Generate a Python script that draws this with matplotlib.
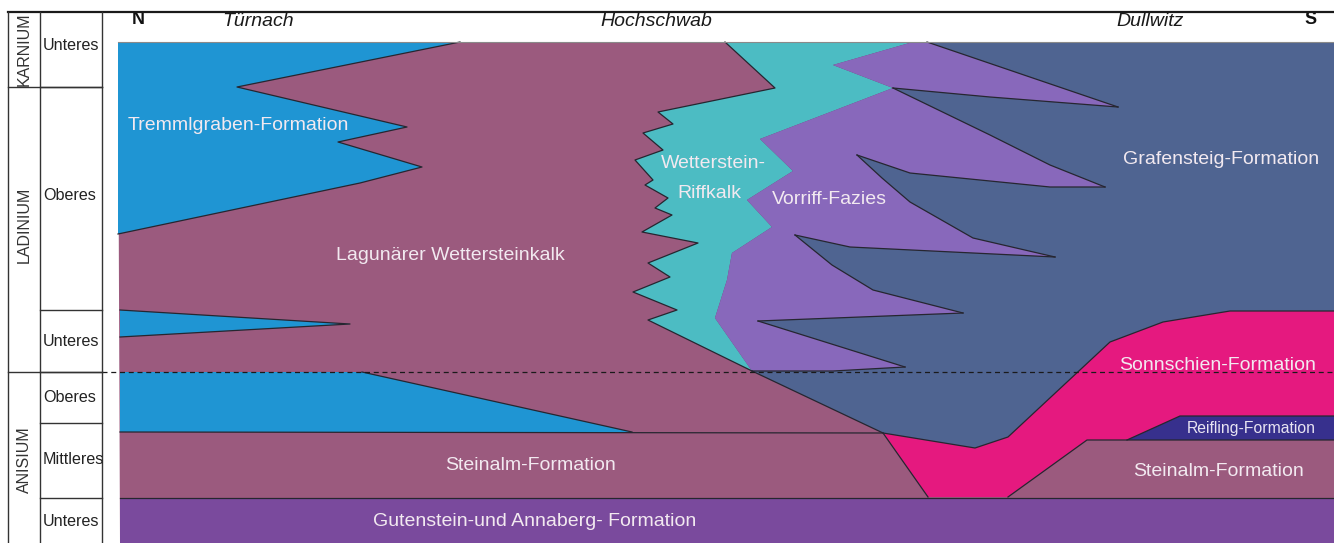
import matplotlib.pyplot as plt
from matplotlib.patches import Polygon

plt.rcParams['font.family'] = ['Liberation Sans', 'DejaVu Sans']

# Facies bodies of the N-S section, outlines in picture units (x = position, y = depth)
BASE = [(118, 42), (1334, 42), (1334, 543), (120, 543)]
TREMMLGRABEN = [(118, 42), (460, 42), (237, 87), (407, 127), (338, 142),
                (422, 167), (360, 183), (118, 234)]
TREMMLGRABEN_WEDGE = [(120, 310), (350, 324), (120, 337)]
TREMMLGRABEN_ANIS = [(120, 372), (362, 372), (632, 432), (120, 432)]
GUTENSTEIN = [(120, 498), (1334, 498), (1334, 543), (120, 543)]

REEF_LEFT = [(725, 42), (775, 88), (658, 112), (673, 124), (643, 133), (663, 150),
             (635, 160), (653, 180), (645, 185), (668, 198), (655, 208), (672, 215),
             (642, 232), (698, 243), (648, 263), (670, 277), (633, 292), (677, 310),
             (648, 320), (752, 371)]
REEF_RIGHT = [(913, 42), (833, 65), (893, 88), (760, 139), (793, 171), (747, 200),
              (772, 227), (732, 253), (727, 280), (715, 318), (752, 371)]

GRAFENSTEIG_BASE = [(752, 371), (883, 433), (975, 448), (1008, 437), (1110, 342),
                    (1163, 322), (1230, 311), (1334, 311)]

VORRIFF_TOP = [(833, 65), (913, 42), (927, 42), (1118, 107), (990, 97), (893, 88)]
VORRIFF_MAIN = [(893, 88), (990, 135), (1050, 165), (1105, 187), (1050, 187),
                (910, 173), (857, 155), (882, 178), (910, 202), (973, 238),
                (1055, 257), (850, 247), (795, 235), (832, 265), (873, 290),
                (963, 313), (758, 321), (905, 367), (833, 371), (752, 371),
                (715, 318), (727, 280), (732, 253), (772, 227), (747, 200),
                (793, 171), (760, 139)]

SONNSCHIEN = GRAFENSTEIG_BASE[1:] + [(1334, 416), (1180, 416), (1127, 440),
                                     (1087, 440), (1008, 497), (928, 497)]
REIFLING = [(1127, 440), (1180, 416), (1334, 416), (1334, 440)]

# boundaries drawn as thin dark lines
BOUNDARIES = [
    TREMMLGRABEN[1:],
    TREMMLGRABEN_WEDGE,
    [(362, 372), (632, 432)],
    [(120, 432), (883, 433)],
    [(120, 498), (1334, 498)],
    REEF_LEFT,
    GRAFENSTEIG_BASE,
    [(883, 433), (928, 497)],
    [(1008, 497), (1087, 440), (1334, 440)],
    [(1127, 440), (1180, 416), (1334, 416)],
    [(927, 42), (1118, 107)],
    [(893, 88), (990, 97), (1118, 107)],
    [(893, 88), (990, 135), (1050, 165), (1105, 187)],
    [(857, 155), (910, 173), (1050, 187), (1105, 187)],
    [(857, 155), (882, 178), (910, 202), (973, 238), (1055, 257)],
    [(795, 235), (850, 247), (1055, 257)],
    [(795, 235), (832, 265), (873, 290), (963, 313)],
    [(758, 321), (963, 313)],
    [(758, 321), (905, 367)],
    [(752, 371), (833, 371), (905, 367)],
]

COLORS = {
    "mauve": "#9b5a7e",
    "blue": "#1f95d3",
    "cyan": "#4cbcc3",
    "vorriff": "#8868bb",
    "grafensteig": "#4f6491",
    "pink": "#e5197f",
    "reifling": "#37308d",
    "gutenstein": "#7a4a9d",
}

# stratigraphic column
STAGES = ["KARNIUM", "LADINIUM", "ANISIUM"]
STAGE_Y = [49, 225, 460]
SUBSTAGES = ["Unteres", "Oberes", "Unteres", "Oberes", "Mittleres", "Unteres"]
SUBSTAGE_Y = [45, 195, 341, 398, 459, 521]
STAGE_LINES = [87, 372]
SUBSTAGE_LINES = [87, 310, 372, 423, 498]

LOCALITIES = ["Türnach", "Hochschwab", "Dullwitz"]
LOCALITY_X = [258, 656, 1150]

LABELS = [
    ("Tremmlgraben-Formation", 128, 125, "left"),
    ("Lagunärer Wettersteinkalk", 450, 255, "center"),
    ("Wetterstein-", 713, 164, "center"),
    ("Riffkalk", 709, 193, "center"),
    ("Vorriff-Fazies", 829, 200, "center"),
    ("Grafensteig-Formation", 1221, 160, "center"),
    ("Sonnschien-Formation", 1218, 365, "center"),
    ("Steinalm-Formation", 531, 465, "center"),
    ("Steinalm-Formation", 1219, 471, "center"),
    ("Gutenstein-und Annaberg- Formation", 535, 522, "center"),
]

fig = plt.figure(figsize=(13.34, 5.43), dpi=100, facecolor="white")
ax = fig.add_axes([0, 0, 1, 1])
ax.set_xlim(0, 1334)
ax.set_ylim(543, 0)
ax.axis("off")

fills = [
    (BASE, "mauve"),
    (TREMMLGRABEN, "blue"),
    (TREMMLGRABEN_WEDGE, "blue"),
    (TREMMLGRABEN_ANIS, "blue"),
    (REEF_LEFT + REEF_RIGHT[::-1], "cyan"),
    (REEF_RIGHT + GRAFENSTEIG_BASE[1:] + [(1334, 42)], "grafensteig"),
    (VORRIFF_TOP, "vorriff"),
    (VORRIFF_MAIN, "vorriff"),
    (SONNSCHIEN, "pink"),
    (REIFLING, "reifling"),
    (GUTENSTEIN, "gutenstein"),
]
for pts, key in fills:
    ax.add_patch(Polygon(pts, closed=True, facecolor=COLORS[key],
                         edgecolor="none", zorder=1))

for line in BOUNDARIES:
    xs, ys = zip(*line)
    ax.plot(xs, ys, color="#262630", lw=0.9, zorder=3)

# top edge of coloured section and stage boundary
ax.plot([118, 1334], [42, 42], color="#8a8a8a", lw=0.8, zorder=3)
ax.plot([102, 1334], [372, 372], color="#1a1a1a", lw=0.9, ls=(0, (4, 3)), zorder=4)

# frame of the stratigraphic column
ax.plot([8, 1334], [12, 12], color="#1a1a1a", lw=1.6, zorder=4)
for x in [8, 40, 102]:
    ax.plot([x, x], [12, 543], color="#333333", lw=1.0, zorder=4)
for y in STAGE_LINES:
    ax.plot([8, 102], [y, y], color="#333333", lw=1.0, zorder=4)
for y in SUBSTAGE_LINES:
    ax.plot([40, 102], [y, y], color="#333333", lw=1.0, zorder=4)

for name, y in zip(STAGES, STAGE_Y):
    ax.text(24, y, name, rotation=90, ha="center", va="center",
            fontsize=11.5, color="#333333", zorder=5)
for name, y in zip(SUBSTAGES, SUBSTAGE_Y):
    ax.text(43, y, name, ha="left", va="center", fontsize=11.6,
            color="#222222", zorder=5)

ax.text(138, 20, "N", ha="center", va="center", fontsize=13,
        fontweight="bold", color="#111111")
ax.text(1311, 20, "S", ha="center", va="center", fontsize=13,
        fontweight="bold", color="#111111")
for name, x in zip(LOCALITIES, LOCALITY_X):
    ax.text(x, 21, name, ha="center", va="center", fontsize=14,
            fontstyle="italic", color="#1a1a1a")

for text, x, y, ha in LABELS:
    ax.text(x, y, text, ha=ha, va="center", fontsize=14,
            color="#f2e9f0", zorder=6)
ax.text(1251, 428, "Reifling-Formation", ha="center", va="center",
        fontsize=11.3, color="#e8e4f2", zorder=6)

fig.savefig("out.png", dpi=100, facecolor="white")
